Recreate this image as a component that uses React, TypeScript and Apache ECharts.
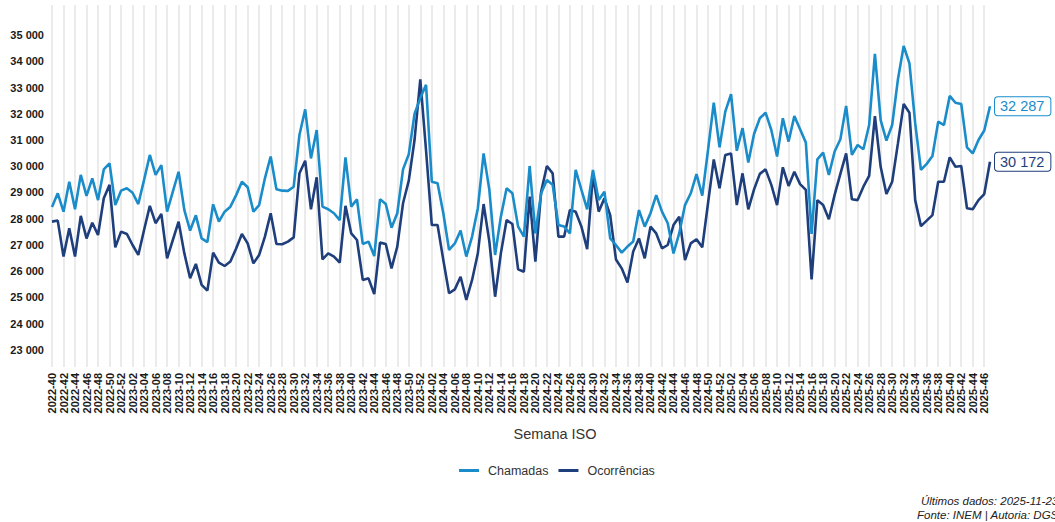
import React, { useEffect, useRef } from "react";
import * as echarts from "echarts";

// ISO week categories: 2022-40 .. 2025-47
const startYear = 2022;
const startWeek = 40;
const weekCount = 164;
const weeksPerYear = 52;

const categories: string[] = [];
{
  let y = startYear;
  let w = startWeek;
  for (let k = 0; k < weekCount; k++) {
    categories.push(`${y}-${String(w).padStart(2, "0")}`);
    w++;
    if (w > weeksPerYear) {
      w = 1;
      y++;
    }
  }
}

const chamadas: number[] = [
  28450, 28970, 28270, 29410, 28360, 29670, 28870, 29540, 28710, 29880,
  30110, 28520, 29070, 29160, 28990, 28560, 29480, 30430, 29670, 30040,
  28270, 29030, 29790, 28330, 27550, 28130, 27250, 27110, 28550, 27890,
  28270, 28460, 28900, 29410, 29200, 28270, 28520, 29540, 30370, 29120,
  29070, 29060, 29220, 31190, 32170, 30300, 31380, 28460, 28360, 28210,
  27950, 30340, 28460, 28740, 27040, 27130, 26580, 28740, 28560, 27660,
  28210, 29880, 30460, 31990, 32600, 33100, 29410, 29350, 28210, 26810,
  27060, 27550, 26560, 27320, 28400, 30490, 29100, 26620, 28080, 29160,
  28970, 27700, 27320, 30010, 27440, 28970, 29480, 29290, 27760, 27700,
  27440, 29860, 29100, 28360, 29860, 28710, 29030, 27250, 27000, 26710,
  26940, 27130, 28330, 27700, 28210, 28900, 28270, 27830, 26680, 27450,
  28520, 28970, 29700, 28880, 30620, 32420, 30720, 32080, 32750, 30590,
  31450, 30140, 31230, 31830, 32040, 31380, 30370, 31830, 30940, 31910,
  31410, 30900, 27420, 30260, 30520, 29670, 30560, 31030, 32300, 30430,
  30810, 30650, 31570, 34280, 31760, 30980, 31570, 33310, 34580, 33920,
  31640, 29860, 30090, 30390, 31700, 31570, 32680, 32420, 32370, 30720,
  30490, 31000, 31360, 32287,
];

const ocorrencias: number[] = [
  27890, 27930, 26560, 27640, 26560, 28110, 27250, 27850, 27380, 28780,
  29290, 26910, 27510, 27420, 27000, 26620, 27570, 28490, 27830, 28180,
  26490, 27190, 27890, 26680, 25730, 26280, 25480, 25260, 26710, 26330,
  26200, 26370, 26870, 27420, 27060, 26300, 26620, 27320, 28210, 27040,
  27030, 27130, 27290, 29730, 30210, 28360, 29580, 26450, 26680, 26560,
  26330, 28490, 27440, 27190, 25670, 25730, 25130, 27090, 27040, 26110,
  26940, 28590, 29450, 31000, 33310, 30600, 27760, 27760, 26430, 25160,
  25310, 25790, 24910, 25670, 26680, 28560, 27130, 25030, 26680, 27950,
  27800, 26070, 25980, 28840, 26370, 29030, 30010, 29730, 27320, 27320,
  28330, 28270, 27700, 26840, 29670, 28270, 28780, 28140, 26450, 26110,
  25570, 26750, 27250, 26490, 27700, 27440, 26870, 27000, 27760, 28080,
  26430, 27060, 27220, 26910, 28590, 30260, 29160, 30430, 30490, 28520,
  29730, 28360, 29120, 29710, 29880, 29290, 28520, 29960, 29250, 29790,
  29320, 29100, 25690, 28710, 28520, 27980, 28910, 29710, 30490, 28740,
  28710, 29220, 29630, 31910, 29980, 28940, 29410, 30870, 32370, 32040,
  28710, 27720, 27930, 28140, 29410, 29410, 30340, 29980, 30010, 28400,
  28360, 28710, 28940, 30172,
];

const yTicks: number[] = [
  23000, 24000, 25000, 26000, 27000, 28000, 29000, 30000, 31000, 32000,
  33000, 34000, 35000,
];

const seriesNames = ["Chamadas", "Ocorrências"];
const COLOR_CHAM = "#1a8cca";
const COLOR_OCOR = "#1f3e7c";
const FONT = '"Liberation Sans", Arial, sans-serif';

const fmt = (v: number) =>
  String(Math.round(v)).replace(/\B(?=(\d{3})+(?!\d))/g, " ");

export default function App() {
  const ref = useRef<HTMLDivElement>(null);

  useEffect(() => {
    if (!ref.current) return;
    const chart = echarts.init(ref.current, undefined, { renderer: "svg" });

    const endLabel = (color: string) => ({
      show: true,
      formatter: (p: any) => fmt(Array.isArray(p.value) ? p.value[1] : p.value),
      color,
      fontFamily: FONT,
      fontSize: 14.5,
      backgroundColor: "#ffffff",
      borderColor: color,
      borderWidth: 1,
      borderRadius: 3,
      padding: [2, 6, 1, 5],
      distance: 5,
    });

    chart.setOption({
      animation: false,
      backgroundColor: "#ffffff",
      textStyle: { fontFamily: FONT },
      grid: { left: 52, right: 65, top: 5, bottom: 155, containLabel: false },
      legend: {
        data: seriesNames,
        left: 454,
        top: 459,
        icon: "rect",
        itemWidth: 20,
        itemHeight: 3,
        itemGap: 10,
        textStyle: {
          fontSize: 12.5,
          color: "#333333",
          fontFamily: FONT,
          padding: [0, 0, 0, 4],
        },
      },
      xAxis: {
        type: "category",
        data: categories,
        boundaryGap: false,
        axisLine: { show: false },
        axisTick: { show: false },
        axisLabel: {
          interval: 1,
          rotate: 90,
          margin: 6,
          fontSize: 11,
          fontWeight: "bold",
          color: "#1a1a1a",
          fontFamily: FONT,
        },
        splitLine: {
          show: true,
          interval: 1,
          lineStyle: { color: "#ebebeb", width: 2 },
        },
      },
      yAxis: {
        type: "value",
        min: 22352,
        max: 36143,
        axisLine: { show: false },
        axisTick: { show: false },
        splitLine: { show: false },
        axisLabel: {
          customValues: yTicks,
          formatter: (v: number) => fmt(v),
          margin: 8,
          fontSize: 11,
          fontWeight: "bold",
          color: "#1a1a1a",
          fontFamily: FONT,
        },
      },
      graphic: [
        {
          type: "text",
          x: 555,
          y: 434,
          style: {
            text: "Semana ISO",
            font: `14.5px ${FONT}`,
            fill: "#333333",
            textAlign: "center",
            textVerticalAlign: "middle",
          },
        },
        {
          type: "text",
          x: 921,
          y: 501,
          style: {
            text: "Últimos dados: 2025-11-23",
            font: `italic 11.5px ${FONT}`,
            fill: "#222222",
            textAlign: "left",
            textVerticalAlign: "middle",
          },
        },
        {
          type: "text",
          x: 917,
          y: 515,
          style: {
            text: "Fonte: INEM | Autoria: DGS",
            font: `italic 11.5px ${FONT}`,
            fill: "#222222",
            textAlign: "left",
            textVerticalAlign: "middle",
          },
        },
      ],
      series: [
        {
          name: seriesNames[0],
          type: "line",
          data: chamadas,
          symbol: "none",
          z: 3,
          lineStyle: { color: COLOR_CHAM, width: 2.6 },
          itemStyle: { color: COLOR_CHAM },
          endLabel: endLabel(COLOR_CHAM),
        },
        {
          name: seriesNames[1],
          type: "line",
          data: ocorrencias,
          symbol: "none",
          z: 2,
          lineStyle: { color: COLOR_OCOR, width: 2.6 },
          itemStyle: { color: COLOR_OCOR },
          endLabel: endLabel(COLOR_OCOR),
        },
      ],
    });

    return () => chart.dispose();
  }, []);

  return (
    <div
      ref={ref}
      style={{ position: "absolute", left: 0, top: 0, width: 1055, height: 522 }}
    />
  );
}
